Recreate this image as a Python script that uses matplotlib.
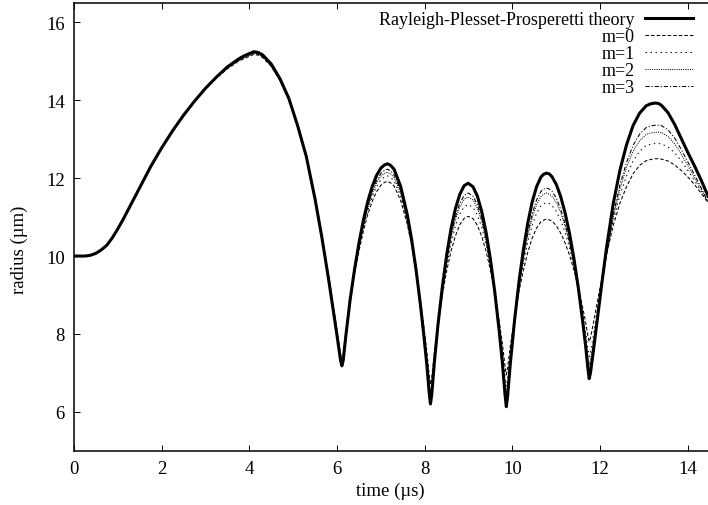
import numpy as np
import matplotlib
matplotlib.use('Agg')
import matplotlib.pyplot as plt

# time in microseconds, radius in micrometres
t = [0.0, 0.25, 0.375, 0.5, 0.625, 0.75, 0.875, 1.0, 1.125, 1.25, 1.5, 1.75, 2.0, 2.25, 2.5, 2.75,
     3.0, 3.25, 3.5, 3.75, 3.875, 4.0, 4.1, 4.2,
     4.3, 4.5, 4.7, 4.9, 5.1, 5.3, 5.5, 5.65, 5.8, 5.9, 6.0, 6.05, 6.08, 6.11,
     6.14, 6.2, 6.3, 6.4, 6.5, 6.6, 6.7, 6.8, 6.9, 7.0, 7.08, 7.15, 7.22,
     7.3, 7.45, 7.6, 7.7, 7.8, 7.9, 7.98, 8.05, 8.1, 8.13,
     8.16, 8.22, 8.3, 8.4, 8.5, 8.6, 8.7, 8.8, 8.9, 8.99,
     9.1, 9.2, 9.3, 9.4, 9.5, 9.6, 9.7, 9.77, 9.83, 9.86,
     9.89, 9.95, 10.05, 10.15, 10.25, 10.35, 10.45, 10.55, 10.65, 10.71, 10.77,
     10.84, 10.9, 11.0, 11.1, 11.2, 11.3, 11.4, 11.5, 11.6, 11.67, 11.72, 11.75,
     11.78, 11.85, 11.95, 12.05, 12.15, 12.3, 12.45, 12.6, 12.75, 12.9, 13.05, 13.15, 13.25,
     13.33, 13.4, 13.55, 13.7, 13.85, 14.0, 14.15, 14.3, 14.46]

r_theory = [10.00, 10.00, 10.02, 10.07, 10.16, 10.28, 10.47, 10.70, 10.95, 11.22, 11.76, 12.30, 12.78, 13.22, 13.62, 13.98,
            14.31, 14.60, 14.86, 15.06, 15.14, 15.20, 15.25, 15.23,
            15.17, 14.93, 14.55, 14.05, 13.35, 12.55, 11.45, 10.50, 9.45, 8.70, 7.95, 7.55, 7.32, 7.18,
            7.32, 7.95, 8.90, 9.67, 10.34, 10.92, 11.40, 11.78, 12.07, 12.26, 12.34, 12.37, 12.33,
            12.23, 11.79, 11.07, 10.43, 9.66, 8.76, 7.95, 7.17, 6.50, 6.20,
            6.45, 7.28, 8.22, 9.20, 10.03, 10.71, 11.22, 11.59, 11.81, 11.87,
            11.78, 11.54, 11.14, 10.60, 9.90, 9.05, 8.05, 7.26, 6.45, 6.13,
            6.40, 7.22, 8.37, 9.35, 10.17, 10.85, 11.39, 11.78, 12.03, 12.10, 12.13,
            12.11, 12.04, 11.84, 11.53, 11.11, 10.59, 9.95, 9.20, 8.34, 7.68, 7.12, 6.85,
            7.00, 7.60, 8.50, 9.40, 10.25, 11.35, 12.20, 12.85, 13.35, 13.67, 13.86, 13.91, 13.93,
            13.92, 13.87, 13.68, 13.38, 13.02, 12.66, 12.32, 11.96, 11.54]

r_m0 = [10.00, 10.00, 10.02, 10.07, 10.16, 10.28, 10.47, 10.70, 10.95, 11.22, 11.76, 12.30, 12.78, 13.22, 13.62, 13.98,
        14.29, 14.57, 14.81, 15.00, 15.07, 15.13, 15.18, 15.16,
        15.10, 14.87, 14.50, 14.01, 13.34, 12.56, 11.49, 10.57, 9.55, 8.82, 8.09, 7.71, 7.48, 7.35,
        7.47, 8.03, 8.86, 9.54, 10.13, 10.64, 11.07, 11.40, 11.65, 11.82, 11.89, 11.92, 11.88,
        11.80, 11.43, 10.82, 10.28, 9.63, 8.87, 8.18, 7.52, 6.96, 6.70,
        6.89, 7.52, 8.24, 8.99, 9.62, 10.13, 10.52, 10.81, 10.97, 11.02,
        10.96, 10.79, 10.50, 10.12, 9.62, 9.02, 8.31, 7.75, 7.18, 6.95,
        7.13, 7.68, 8.44, 9.10, 9.64, 10.10, 10.46, 10.72, 10.88, 10.92, 10.95,
        10.93, 10.90, 10.78, 10.59, 10.34, 10.03, 9.65, 9.20, 8.69, 8.29, 7.96, 7.80,
        7.90, 8.30, 8.90, 9.49, 10.06, 10.79, 11.35, 11.78, 12.11, 12.33, 12.45, 12.48, 12.50,
        12.50, 12.49, 12.44, 12.34, 12.20, 12.03, 11.84, 11.62, 11.38]

r_m1 = [10.00, 10.00, 10.02, 10.07, 10.16, 10.28, 10.47, 10.70, 10.95, 11.22, 11.76, 12.30, 12.78, 13.22, 13.62, 13.98,
        14.30, 14.58, 14.83, 15.02, 15.09, 15.15, 15.20, 15.18,
        15.12, 14.88, 14.51, 14.02, 13.34, 12.55, 11.47, 10.54, 9.51, 8.77, 8.03, 7.64, 7.41, 7.28,
        7.41, 7.99, 8.86, 9.57, 10.19, 10.73, 11.17, 11.52, 11.78, 11.96, 12.03, 12.06, 12.02,
        11.93, 11.54, 10.89, 10.31, 9.62, 8.81, 8.08, 7.37, 6.77, 6.50,
        6.71, 7.42, 8.22, 9.05, 9.75, 10.33, 10.77, 11.08, 11.27, 11.32,
        11.25, 11.05, 10.73, 10.29, 9.72, 9.03, 8.21, 7.57, 6.91, 6.65,
        6.86, 7.51, 8.41, 9.18, 9.83, 10.36, 10.79, 11.10, 11.29, 11.34, 11.37,
        11.35, 11.30, 11.15, 10.92, 10.61, 10.22, 9.74, 9.18, 8.53, 8.04, 7.62, 7.42,
        7.53, 8.00, 8.69, 9.39, 10.05, 10.90, 11.56, 12.05, 12.44, 12.69, 12.84, 12.87, 12.89,
        12.89, 12.88, 12.80, 12.65, 12.45, 12.20, 11.94, 11.67, 11.36]

r_m2 = [10.00, 10.00, 10.02, 10.07, 10.16, 10.28, 10.47, 10.70, 10.95, 11.22, 11.76, 12.30, 12.78, 13.22, 13.62, 13.98,
        14.30, 14.58, 14.84, 15.03, 15.10, 15.16, 15.21, 15.19,
        15.13, 14.89, 14.52, 14.02, 13.34, 12.54, 11.46, 10.52, 9.48, 8.74, 8.00, 7.61, 7.38, 7.24,
        7.37, 7.97, 8.87, 9.60, 10.23, 10.78, 11.23, 11.59, 11.87, 12.05, 12.12, 12.15, 12.11,
        12.02, 11.61, 10.94, 10.34, 9.63, 8.79, 8.03, 7.30, 6.68, 6.40,
        6.63, 7.37, 8.22, 9.11, 9.86, 10.47, 10.93, 11.27, 11.46, 11.52,
        11.44, 11.23, 10.88, 10.40, 9.78, 9.03, 8.14, 7.45, 6.73, 6.45,
        6.68, 7.39, 8.38, 9.23, 9.93, 10.52, 10.98, 11.32, 11.53, 11.59, 11.62,
        11.59, 11.54, 11.38, 11.12, 10.77, 10.33, 9.79, 9.17, 8.45, 7.89, 7.43, 7.20,
        7.33, 7.83, 8.59, 9.35, 10.07, 11.00, 11.72, 12.27, 12.69, 12.96, 13.12, 13.16, 13.18,
        13.18, 13.17, 13.07, 12.88, 12.62, 12.32, 12.02, 11.72, 11.38]

r_m3 = [10.00, 10.00, 10.02, 10.07, 10.16, 10.28, 10.47, 10.70, 10.95, 11.22, 11.76, 12.30, 12.78, 13.22, 13.62, 13.98,
        14.31, 14.59, 14.85, 15.04, 15.11, 15.17, 15.22, 15.20,
        15.14, 14.90, 14.52, 14.03, 13.34, 12.54, 11.45, 10.51, 9.47, 8.72, 7.98, 7.59, 7.36, 7.22,
        7.36, 7.96, 8.88, 9.62, 10.27, 10.83, 11.29, 11.66, 11.94, 12.12, 12.20, 12.23, 12.19,
        12.09, 11.68, 10.99, 10.38, 9.64, 8.78, 8.01, 7.26, 6.62, 6.33,
        6.56, 7.34, 8.21, 9.13, 9.90, 10.54, 11.01, 11.36, 11.56, 11.62,
        11.54, 11.32, 10.95, 10.45, 9.81, 9.02, 8.10, 7.37, 6.63, 6.33,
        6.57, 7.32, 8.35, 9.24, 9.98, 10.60, 11.08, 11.44, 11.66, 11.72, 11.75,
        11.72, 11.67, 11.49, 11.21, 10.84, 10.38, 9.81, 9.14, 8.38, 7.79, 7.29, 7.05,
        7.18, 7.72, 8.52, 9.32, 10.08, 11.06, 11.82, 12.40, 12.84, 13.13, 13.30, 13.34, 13.36,
        13.36, 13.35, 13.24, 13.03, 12.74, 12.42, 12.09, 11.76, 11.40]

labels = ['Rayleigh-Plesset-Prosperetti theory', 'm=0', 'm=1', 'm=2', 'm=3']
xticks = [0, 2, 4, 6, 8, 10, 12, 14]
yticks = [6, 8, 10, 12, 14, 16]

plt.rcParams['font.family'] = ['Liberation Serif', 'DejaVu Serif']
plt.rcParams['font.size'] = 13.5
plt.rcParams['lines.scale_dashes'] = False

fig = plt.figure(figsize=(7.08, 5.06), dpi=100)
ax = fig.add_axes([74/708, 1 - 451.7/506, (708 - 74)/708, (451.7 - 4)/506])

ax.plot(t, r_theory, color='k', lw=2.2, solid_joinstyle='round', label=labels[0])
styles = [(0, (2.5, 1.5)), (0, (1.0, 2.6)), (0, (0.7, 0.9)), (0, (3.0, 1.4, 0.8, 1.4))]
for r, ls, lab in zip([r_m0, r_m1, r_m2, r_m3], styles, labels[1:]):
    ax.plot(t, r, color='k', lw=0.75, linestyle=ls, label=lab)

ax.set_xlim(0, 14.46)
ax.set_ylim(5, 16.5)
ax.set_xticks(xticks)
ax.set_yticks(yticks)
ax.tick_params(direction='in', length=4.5, width=0.7, top=True, right=False, pad=6.5)
ax.spines['right'].set_visible(False)
for s in ['left', 'bottom', 'top']:
    ax.spines[s].set_linewidth(1.1)

ax.set_xlabel('time (µs)')
ax.set_ylabel('radius (µm)')
ax.xaxis.set_label_coords(0.499, -0.0878)
ax.xaxis.label.set_va('center')
ax.yaxis.set_label_coords(-0.0868, 0.4505)
ax.yaxis.label.set_va('center')

ax.legend(loc='upper right', bbox_to_anchor=(0.977, 0.982), frameon=False, markerfirst=False,
          fontsize=13, handlelength=2.7, handletextpad=0.55, labelspacing=0.0,
          borderpad=0, borderaxespad=0)

fig.savefig('out.png', dpi=100)
